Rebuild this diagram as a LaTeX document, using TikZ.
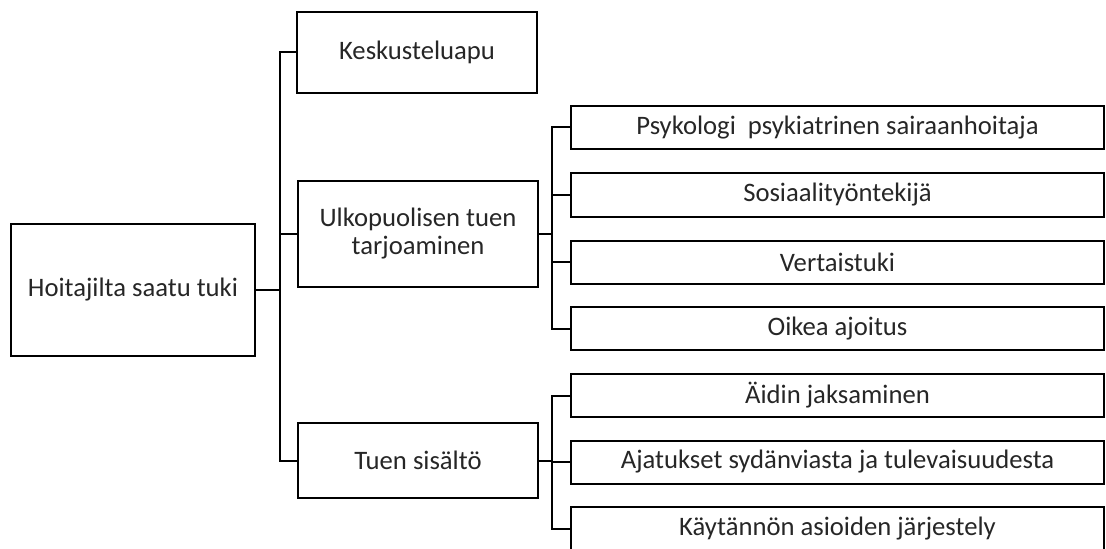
\documentclass[tikz,border=0pt]{standalone}
\usepackage{fontspec}
\setmainfont{Carlito}
\begin{document}
\begin{tikzpicture}[x=0.75pt,y=-0.75pt,
  box/.style={draw=black,line width=1.5pt,rectangle,inner sep=0pt,outer sep=0pt,
    align=center,text=black!85,font=\fontsize{20}{21}\selectfont},
  rbox/.style={box,minimum width=533*0.75pt,minimum height=43*0.75pt},
  conn/.style={draw=black,line width=1.5pt}]
\useasboundingbox (0,0) rectangle (1106,549);
\node[box,minimum width=244*0.75pt,minimum height=132*0.75pt] (root) at (133,290) {Hoitajilta saatu tuki};
\node[box,minimum width=240*0.75pt,minimum height=81*0.75pt] (kesk) at (417,52.5) {Keskusteluapu};
\node[box,minimum width=240*0.75pt,minimum height=106*0.75pt] (ulko) at (418,234) {Ulkopuolisen tuen\\tarjoaminen};
\node[box,minimum width=240*0.75pt,minimum height=75*0.75pt] (tuen) at (418,460.5) {Tuen sisältö};
\node[rbox] (psyk) at (837.5,127.5) {Psykologi\ \ psykiatrinen sairaanhoitaja};
\node[rbox] (sosi) at (837.5,195) {Sosiaalityöntekijä};
\node[rbox] (vert) at (837.5,262) {Vertaistuki};
\node[rbox] (oike) at (837.5,328.5) {Oikea ajoitus};
\node[rbox] (aidi) at (837.5,395.5) {Äidin jaksaminen};
\node[rbox] (ajat) at (837.5,462) {Ajatukset sydänviasta ja tulevaisuudesta};
\node[rbox] (kayt) at (837.5,528.5) {Käytännön asioiden järjestely};
\coordinate (bus1) at (280,0);
\coordinate (bus2) at (552,0);
\draw[conn] (root.east) -- (bus1|-root.east) |- (kesk.west);
\draw[conn] (bus1|-root.east) |- (ulko.west);
\draw[conn] (bus1|-root.east) |- (tuen.west);
\draw[conn] (ulko.east) -- (bus2|-ulko.east) |- (psyk.west);
\draw[conn] (bus2|-ulko.east) |- (sosi.west);
\draw[conn] (bus2|-ulko.east) |- (vert.west);
\draw[conn] (bus2|-ulko.east) |- (oike.west);
\draw[conn] (tuen.east) -- (bus2|-tuen.east) |- (aidi.west);
\draw[conn] (bus2|-tuen.east) |- (ajat.west);
\draw[conn] (bus2|-tuen.east) |- (kayt.west);
\end{tikzpicture}
\end{document}
